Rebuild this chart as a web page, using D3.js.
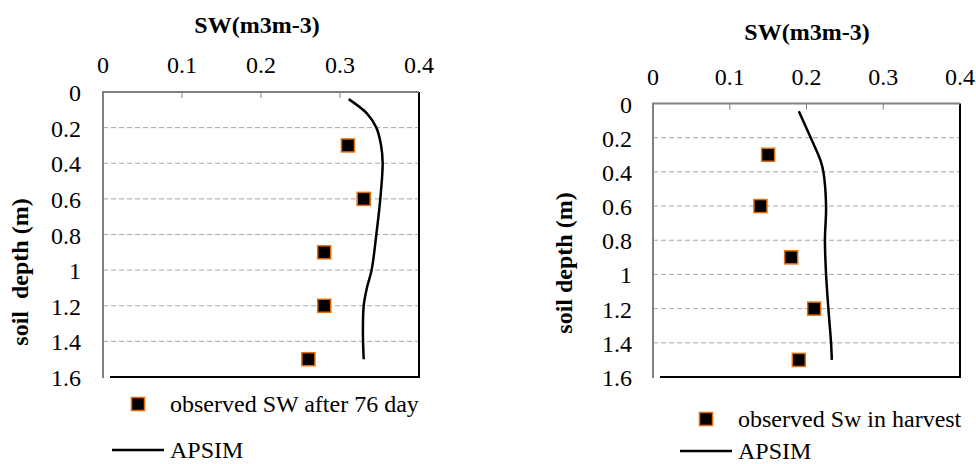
<!DOCTYPE html>
<html>
<head>
<meta charset="utf-8">
<script src="https://cdn.jsdelivr.net/npm/d3@7"></script>
</head>
<body style="margin:0">
<svg id="chart" width="976" height="464"></svg>
<script>
// tick labels
const sheetTicksX = [0, 0.1, 0.2, 0.3, 0.4];
const depthTicks = [0, 0.2, 0.4, 0.6, 0.8, 1, 1.2, 1.4, 1.6];

// observed soil water (depth m, SW m3/m3)
const obsDepth = [0.3, 0.6, 0.9, 1.2, 1.5];
const obsDay76 = [0.31, 0.33, 0.28, 0.28, 0.26];
const obsHarvest = [0.15, 0.14, 0.18, 0.21, 0.19];

// APSIM simulated profile
const apsimDepth1 = [0.04, 0.12, 0.2, 0.3, 0.4, 0.6, 0.8, 1.0, 1.1, 1.2, 1.35, 1.5];
const apsimDay76 = [0.311, 0.334, 0.346, 0.352, 0.354, 0.351, 0.346, 0.340, 0.334, 0.330, 0.329, 0.330];
const apsimDepth2 = [0.045, 0.215, 0.33, 0.4, 0.6, 0.8, 1.0, 1.2, 1.4, 1.5];
const apsimHarvest = [0.19, 0.207, 0.218, 0.222, 0.2255, 0.224, 0.2255, 0.2285, 0.232, 0.233];

const svg = d3.select("#chart");

// every text goes through this so the serif face is set the same way
function label(sel, size, bold) {
    return sel.attr("font-size", size)
        .attr("font-weight", bold ? "bold" : "normal")
        .attr("fill", "#000")
        .style("font-family", '"Liberation Serif"');
}

function drawPanel(opt) {
    const x = d3.scaleLinear().domain([0, 0.4]).range([opt.left, opt.right]);
    const y = d3.scaleLinear().domain([0, 1.6]).range([opt.top, opt.bottom]);
    const g = svg.append("g");

    // dashed gridlines
    g.selectAll("line.grid")
        .data(depthTicks.filter(d => d > 0 && d < 1.6))
        .enter().append("line")
        .attr("x1", opt.left).attr("x2", opt.right)
        .attr("y1", d => y(d)).attr("y2", d => y(d))
        .attr("stroke", "#a6a6a6").attr("stroke-width", 1)
        .attr("stroke-dasharray", "5,3");

    // plot border right + bottom (black)
    g.append("line").attr("x1", opt.right).attr("x2", opt.right)
        .attr("y1", opt.top).attr("y2", opt.bottom)
        .attr("stroke", "#000").attr("stroke-width", 2);
    g.append("line").attr("x1", opt.left + 7).attr("x2", opt.right + 1)
        .attr("y1", opt.bottom).attr("y2", opt.bottom)
        .attr("stroke", "#000").attr("stroke-width", 2);

    // top axis labels
    g.selectAll("text.xlab")
        .data(sheetTicksX)
        .enter().append("text")
        .attr("x", d => x(d)).attr("y", opt.top - opt.xPad)
        .attr("text-anchor", "middle").attr("dominant-baseline", "central")
        .call(label, 24, false)
        .text(d => d3.format("")(d));
    g.selectAll("line.xtick")
        .data(sheetTicksX.filter(d => d > 0 && d < 0.4))
        .enter().append("line")
        .attr("x1", d => x(d)).attr("x2", d => x(d))
        .attr("y1", opt.top).attr("y2", opt.top + 6)
        .attr("stroke", "#808080").attr("stroke-width", 1);

    // left axis labels
    g.selectAll("text.ylab")
        .data(depthTicks)
        .enter().append("text")
        .attr("x", opt.left - opt.yPad).attr("y", d => y(d) + 1)
        .attr("text-anchor", "end").attr("dominant-baseline", "central")
        .call(label, 24, false)
        .text(d => d3.format("")(d));

    // axis lines (gray)
    g.append("path")
        .attr("d", `M${opt.left},${opt.bottom + 1}V${opt.top}H${opt.right}`)
        .attr("fill", "none").attr("stroke", "#808080").attr("stroke-width", 2);

    // titles
    g.append("text")
        .attr("x", opt.titleX).attr("y", opt.titleY)
        .attr("text-anchor", "middle").attr("dominant-baseline", "central")
        .call(label, 24, true)
        .text("SW(m3m-3)");
    g.append("text")
        .attr("transform", `translate(${opt.yTitleX},${opt.yTitleY}) rotate(-90)`)
        .attr("text-anchor", "middle").attr("dominant-baseline", "central")
        .call(label, 24, true)
        .style("white-space", "pre")
        .text(opt.yTitle);

    // APSIM line
    const line = d3.line()
        .x(d => x(d[1])).y(d => y(d[0]))
        .curve(d3.curveCatmullRom.alpha(0.5));
    g.append("path")
        .datum(d3.zip(opt.simDepth, opt.sim))
        .attr("d", line)
        .attr("fill", "none").attr("stroke", "#000").attr("stroke-width", 2.5);

    // observed markers
    g.selectAll("rect.obs")
        .data(d3.zip(obsDepth, opt.obs))
        .enter().append("rect")
        .attr("x", d => x(d[1]) - 6.5).attr("y", d => y(d[0]) - 6.5)
        .attr("width", 13).attr("height", 13)
        .attr("fill", "#000").attr("stroke", "#e46c0a").attr("stroke-width", 1.5);

    // legend
    const lg = g.append("g");
    lg.append("rect")
        .attr("x", opt.legMarkX - 6.5).attr("y", opt.legMarkY - 6.5)
        .attr("width", 13).attr("height", 13)
        .attr("fill", "#000").attr("stroke", "#e46c0a").attr("stroke-width", 1.5);
    lg.append("text")
        .attr("x", opt.legTextX).attr("y", opt.legMarkY)
        .attr("dominant-baseline", "central")
        .call(label, 24, false)
        .text(opt.obsLabel);
    lg.append("line")
        .attr("x1", opt.legLineX1).attr("x2", opt.legLineX2)
        .attr("y1", opt.legLineY).attr("y2", opt.legLineY)
        .attr("stroke", "#000").attr("stroke-width", 2.5);
    lg.append("text")
        .attr("x", opt.legLineX2 + 6).attr("y", opt.legLineY)
        .attr("dominant-baseline", "central")
        .call(label, 24, false)
        .text("APSIM");
}

drawPanel({
    left: 103, right: 419, top: 92, bottom: 377,
    xPad: 27, yPad: 22,
    titleX: 257, titleY: 25,
    yTitle: "soil  depth (m)", yTitleX: 20, yTitleY: 272,
    obs: obsDay76, sim: apsimDay76, simDepth: apsimDepth1,
    obsLabel: "observed SW after 76 day",
    legMarkX: 138, legMarkY: 404, legTextX: 170,
    legLineX1: 112, legLineX2: 164, legLineY: 450
});

drawPanel({
    left: 653, right: 960, top: 103.5, bottom: 377,
    xPad: 27, yPad: 21,
    titleX: 807, titleY: 32,
    yTitle: "soil depth (m)", yTitleX: 564, yTitleY: 263,
    obs: obsHarvest, sim: apsimHarvest, simDepth: apsimDepth2,
    obsLabel: "observed Sw in harvest",
    legMarkX: 706, legMarkY: 419, legTextX: 738,
    legLineX1: 680, legLineX2: 732, legLineY: 451
});
</script>
</body>
</html>
